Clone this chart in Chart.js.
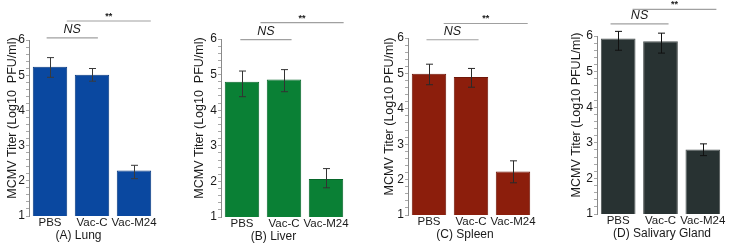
<!DOCTYPE html>
<html>
<head>
<meta charset="utf-8">
<script src="https://cdn.jsdelivr.net/npm/chart.js@4.4.1/dist/chart.umd.min.js"></script>
<style>
  body { margin: 0; background: #fff; width: 733px; height: 247px; position: relative; overflow: hidden; }
  canvas { position: absolute; top: 0; }
</style>
</head>
<body>
<canvas id="lung"></canvas>
<canvas id="liver"></canvas>
<canvas id="spleen"></canvas>
<canvas id="gland"></canvas>
<script>
// groups on the x axis
const groups = ['PBS', 'Vac-C', 'Vac-M24'];

// mean titers (log10) and error bar ends
const lungMean = [5.24, 5.01, 2.29];
const lungHigh = [5.5, 5.19, 2.44];
const lungLow = [4.94, 4.83, 2.06];

const liverMean = [4.8, 4.86, 2.07];
const liverHigh = [5.1, 5.14, 2.36];
const liverLow = [4.38, 4.52, 1.82];

const spleenMean = [4.99, 4.9, 2.23];
const spleenHigh = [5.26, 5.14, 2.53];
const spleenLow = [4.68, 4.61, 1.91];

const glandMean = [5.93, 5.85, 2.81];
const glandHigh = [6.13, 6.08, 2.97];
const glandLow = [5.6, 5.52, 2.64];

// significance brackets: [from group, to group, height]
const lungNS = [-0.08, 1.14, 6.06];
const lungStar = [0.4, 2.4, 6.54];
const liverNS = [-0.04, 1.18, 5.98];
const liverStar = [0.44, 2.42, 6.46];
const spleenNS = [-0.06, 1.18, 5.95];
const spleenStar = [0.35, 2.35, 6.41];
const glandNS = [-0.18, 1.19, 6.34];
const glandStar = [0.34, 2.32, 6.75];

const FONT = "'Liberation Sans', Arial, sans-serif";

// error bars, brackets, axis title and caption
const extras = {
    id: 'extras',
    afterDatasetsDraw(chart, args, opts) {
        const { ctx, chartArea } = chart;
        const x = chart.scales.x, y = chart.scales.y;
        const step = x.getPixelForValue(1) - x.getPixelForValue(0);
        const idxPx = i => x.getPixelForValue(0) + i * step;

        ctx.save();
        // error bars
        ctx.strokeStyle = opts.errColor;
        ctx.lineWidth = 1;
        opts.low.forEach((lo, i) => {
            const cx = Math.round(x.getPixelForValue(i)) + 0.5;
            const yh = y.getPixelForValue(opts.high[i]);
            const yl = y.getPixelForValue(lo);
            ctx.beginPath();
            ctx.moveTo(cx, yh); ctx.lineTo(cx, yl);
            ctx.moveTo(cx - 3.5, yh); ctx.lineTo(cx + 3.5, yh);
            ctx.moveTo(cx - 3.5, yl); ctx.lineTo(cx + 3.5, yl);
            ctx.stroke();
        });

        // brackets
        ctx.strokeStyle = '#a0a0a0';
        ctx.lineWidth = 1.2;
        ctx.fillStyle = '#1a1a1a';
        ctx.textAlign = 'center';
        ctx.textBaseline = 'middle';
        [[opts.ns, 'NS', 'italic 12.5px ' + FONT, 8.5], [opts.star, '**', 'bold 9px ' + FONT, 4.5]].forEach(([b, label, font, dy]) => {
            const x0 = idxPx(b[0]), x1 = idxPx(b[1]), by = y.getPixelForValue(b[2]);
            ctx.beginPath();
            ctx.moveTo(x0, by); ctx.lineTo(x1, by);
            ctx.stroke();
            ctx.font = font;
            ctx.fillText(label, (x0 + x1) / 2, by - dy);
        });

        // caption under the group labels
        ctx.font = '12px ' + FONT;
        ctx.fillText(opts.caption, x.getPixelForValue(1) + opts.captionDx, chartArea.bottom + 20);

        // y axis title
        ctx.font = '12.5px ' + FONT;
        ctx.translate(chartArea.left - opts.titleDx, (chartArea.top + chartArea.bottom) / 2 - 10);
        ctx.rotate(-Math.PI / 2);
        ctx.fillText(opts.yTitle, 0, 0);
        ctx.restore();
    }
};

function makePanel(id, p) {
    const canvas = document.getElementById(id);
    canvas.width = p.width;
    canvas.height = 247;
    canvas.style.left = p.left + 'px';
    canvas.style.width = p.width + 'px';
    canvas.style.height = '247px';

    return new Chart(canvas, {
        type: 'bar',
        data: {
            labels: groups,
            datasets: [{
                data: p.mean,
                backgroundColor: p.color,
                borderColor: p.border,
                borderWidth: 1,
                barPercentage: 0.82,
                categoryPercentage: 1
            }]
        },
        options: {
            responsive: false,
            animation: false,
            devicePixelRatio: 1,
            layout: {
                padding: { left: 0, top: p.top, bottom: 0, right: p.width - (p.areaRight - p.left) }
            },
            plugins: {
                legend: { display: false },
                tooltip: { enabled: false },
                extras: {
                    low: p.low, high: p.high, ns: p.ns, star: p.star,
                    errColor: p.errColor, caption: p.caption, captionDx: p.captionDx,
                    yTitle: p.yTitle, titleDx: p.titleDx
                }
            },
            scales: {
                x: {
                    grid: { display: false, drawTicks: false },
                    border: { display: false },
                    ticks: {
                        color: '#1a1a1a',
                        font: { family: FONT, size: 11.5 },
                        padding: 0,
                        autoSkip: false,
                        maxRotation: 0
                    },
                    afterFit: s => { s.height = 247 - p.bottom; }
                },
                y: {
                    min: 1,
                    max: 6,
                    grid: { drawOnChartArea: false, tickLength: 3, tickColor: '#a8a8a8' },
                    border: { color: '#8a8a8a', width: 1 },
                    ticks: {
                        stepSize: 0.2,
                        autoSkip: false,
                        padding: 1,
                        color: '#1a1a1a',
                        font: { family: FONT, size: 12 },
                        callback: v => Math.abs(v - Math.round(v)) < 1e-6 ? Math.round(v) : ''
                    },
                    afterFit: s => { s.width = p.areaLeft - p.left; }
                }
            }
        },
        plugins: [extras]
    });
}

makePanel('lung', {
    left: 0, width: 183, areaLeft: 29, areaRight: 155, top: 40, bottom: 216,
    mean: lungMean, low: lungLow, high: lungHigh, ns: lungNS, star: lungStar,
    color: '#0a48a0', border: '#083a80', errColor: '#3a3a3a',
    caption: '(A) Lung', captionDx: -13.5, yTitle: 'MCMV Titer (Log10  PFU/ml)', titleDx: 16
});
makePanel('liver', {
    left: 185, width: 180, areaLeft: 221, areaRight: 347, top: 39, bottom: 217,
    mean: liverMean, low: liverLow, high: liverHigh, ns: liverNS, star: liverStar,
    color: '#0a8035', border: '#07662a', errColor: '#333333',
    caption: '(B) Liver', captionDx: -10.5, yTitle: 'MCMV Titer (Log10  PFU/ml)', titleDx: 21
});
makePanel('spleen', {
    left: 365, width: 185, areaLeft: 408, areaRight: 534, top: 38, bottom: 215,
    mean: spleenMean, low: spleenLow, high: spleenHigh, ns: spleenNS, star: spleenStar,
    color: '#8c1e0c', border: '#701709', errColor: '#2a2a2a',
    caption: '(C) Spleen', captionDx: -6, yTitle: 'MCMV Titer (Log10 PFU/ml)', titleDx: 18
});
makePanel('gland', {
    left: 550, width: 183, areaLeft: 597, areaRight: 724, top: 36, bottom: 214,
    mean: glandMean, low: glandLow, high: glandHigh, ns: glandNS, star: glandStar,
    color: '#283232', border: '#4a5050', errColor: '#111111',
    caption: '(D) Salivary Gland', captionDx: 1.5, yTitle: 'MCMV Titer (Log10 PFUL/ml)', titleDx: 20
});
</script>
</body>
</html>
